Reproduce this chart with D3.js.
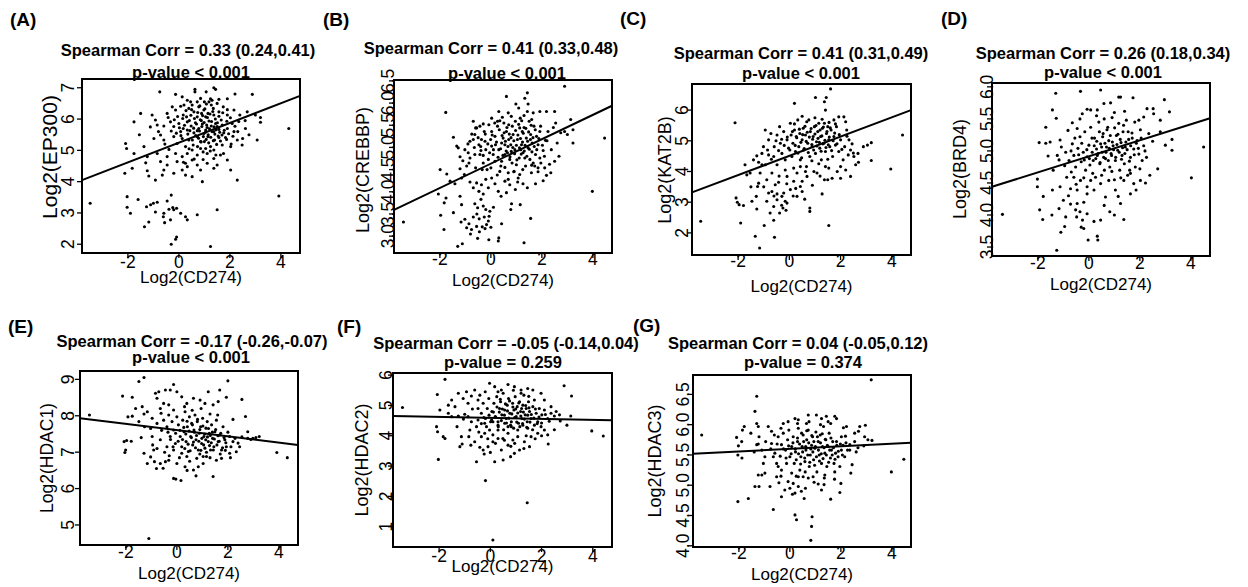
<!DOCTYPE html>
<meta charset="utf-8">
<style>
  body { margin: 0; background: #fff; }
  text { font-family: "Liberation Sans", Arial, sans-serif; fill: #000; }
  .title { font-weight: bold; font-size: 16.5px; }
  .tag { font-weight: bold; font-size: 19px; }
  .lab { font-size: 17px; }
  .tick { font-size: 17.5px; }
</style>
<body>
<script src="https://d3js.org/d3.v7.min.js"></script>
<script>

var xTicks = [-2, 0, 2, 4];
var xDomain = [-3.8, 4.75];

// Log2(CD274) vs Log2(EP300)
var ep300 = [[-3.48,3.31],[4.31,5.7],[3.92,3.54],[1.24,1.93],[-0.3,2.0],[-0.13,2.16],[-0.09,2.23],[1.5,3.1],[2.29,4.05],[3.07,5.33],[3.2,6.05],[3.2,5.9],[2.88,6.79],[2.2,6.8],
[-2.03,3.52],[-2.03,3.18],[-1.9,2.99],[-1.6,3.43],[-1.35,2.56],[-1.18,2.71],[-1.27,3.2],[-1.11,3.26],[-1.0,3.31],[-0.85,3.34],[-0.92,3.03],[-0.59,2.99],[-0.61,2.88],[-0.56,2.69],[-0.33,2.78],[-0.3,3.57],[-0.39,3.12],[-0.2,3.1],[-0.09,3.15],[-0.46,3.38],[0.26,2.88],[0.33,2.78],[0.72,2.94],[0.07,2.99],[-0.24,3.17],
[-2.09,5.22],[-2.05,5.06],[-2.12,4.27],[-1.76,4.9],[-1.83,4.43],[-1.5,6.18],[-1.76,5.91],[-1.37,5.12],[-1.24,4.8],[-1.05,6.13],[-0.98,5.38],[-1.24,4.35],[-1.18,4.18],[-0.92,4.05],[-0.65,4.21],[-0.59,4.37],[-0.85,4.9],[-0.72,4.64],[-0.46,4.8],[-0.39,5.03],[-0.46,4.53],[-0.72,5.49],[-0.59,5.33],[-0.59,5.78],[-0.75,6.87],[-0.92,5.97],[-0.85,5.81],
[-0.13,6.79],[0.63,6.95],[0.63,6.87],[1.07,6.87],[1.37,7.0],[1.44,6.95],[0.13,6.71],[0.33,6.6],[0.85,6.66],[1.24,6.65],[1.57,6.63],[1.9,6.65],[1.0,6.55],[1.18,6.55],[0.72,6.55],[0.46,6.55],[-0.26,6.39],[0.07,6.41],[1.5,6.5],
[-0.46,6.18],[-0.13,6.29],[0.17,6.13],[0.39,6.34],[0.59,6.23],[0.78,6.39],[0.98,6.29],[1.14,6.18],[1.35,6.34],[1.57,6.23],[1.74,6.39],[1.9,6.13],[2.16,6.29],[2.39,6.13],[2.68,6.23],[3.0,6.13],[0.3,6.07],[0.72,6.07],[1.05,6.07],[1.37,6.13],[0.52,6.45],[0.89,6.18],[1.27,6.45],
[-0.33,5.91],[-0.2,5.76],[0.0,5.86],[0.17,5.7],[0.33,5.91],[0.48,5.78],[0.65,5.88],[0.78,5.7],[0.92,5.84],[1.05,5.65],[1.18,5.94],[1.27,5.78],[1.44,5.86],[1.57,5.67],[1.7,5.81],[1.9,5.7],[2.09,5.86],[2.31,5.6],[2.61,5.7],[0.07,5.6],[0.59,5.56],[0.98,5.54],[1.37,5.6],[1.76,5.56],[2.16,5.6],[0.33,5.65],[0.72,5.63],[1.11,5.73],[1.5,5.76],[0.88,5.95],[0.43,5.63],
[-0.2,5.44],[-0.07,5.22],[0.13,5.38],[0.26,5.12],[0.39,5.33],[0.56,5.17],[0.72,5.44],[0.85,5.06],[1.0,5.28],[1.14,5.44],[1.24,5.12],[1.4,5.33],[1.57,5.41],[1.7,5.17],[1.87,5.35],[2.03,5.12],[2.29,5.33],[2.48,5.17],[0.85,5.28],[0.52,5.01],[1.05,5.06],[1.37,5.01],
[-0.13,4.9],[0.13,4.8],[0.33,4.9],[0.52,4.69],[0.72,4.85],[0.95,4.71],[1.11,4.9],[1.37,4.74],[1.63,4.85],[1.9,4.69],[0.26,4.59],[0.72,4.53],[1.11,4.59],[1.5,4.53],[-0.07,4.64],
[-0.2,4.27],[0.13,4.37],[0.33,4.48],[0.52,4.16],[0.85,4.37],[0.92,4.0],[1.37,4.43],[2.03,4.37],[0.26,4.21],
[0.35,5.52],[0.41,5.95],[0.47,6.12],[0.53,5.33],[0.58,5.71],[0.61,6.02],[0.66,5.47],[0.69,5.84],[0.74,6.21],[0.77,5.39],[0.81,5.62],[0.84,5.98],[0.87,5.27],[0.9,5.76],[0.93,6.11],[0.96,5.44],[0.99,5.89],[1.02,6.33],[1.04,5.58],[1.07,5.35],[1.09,5.81],[1.12,6.05],[1.15,5.5],[1.17,5.24],[1.2,5.69],[1.22,6.16],[1.25,5.42],[1.28,5.92],[1.3,5.6],[1.33,6.24],[1.35,5.31],[1.38,5.75],[1.41,5.52],[1.43,6.0],[1.46,5.66],[1.48,5.19],[1.51,5.88],[1.54,5.46],[1.57,6.09],[1.6,5.58],[1.63,5.3],[1.66,5.97],[1.69,5.49],[1.72,6.2],[1.78,5.64],[1.83,5.41],[1.88,5.93],[1.95,5.53],[2.02,6.04],[2.12,5.45],[2.2,5.77],[2.35,5.92],[2.5,5.38],[0.22,5.8],[0.15,6.02],[0.08,5.47],[0.02,5.72],[-0.05,6.08],[-0.1,5.55],[-0.18,5.98],[0.28,6.27],[0.5,6.3],[0.73,5.12],[0.95,4.95],[1.23,4.98],[1.45,4.85],[0.6,4.72],[0.4,5.05],[0.18,4.62],[-0.3,5.62],[-0.42,6.05],[-0.55,5.2],[1.08,6.48],[1.3,6.6],[0.82,6.42],[0.2,6.45],[1.9,6.3],[2.05,5.2],[1.75,4.9],[2.6,5.95],[2.75,5.5],[-0.8,5.6],[-1.12,5.75],[-1.3,4.6],[-1.55,5.5]];
var ep300Fit = [[-3.8,4.05],[4.75,6.74]];

// Log2(CD274) vs Log2(CREBBP)
var crebbp = [[-3.43,3.32],[2.89,6.38],[4.46,5.21],[3.98,4.01],[-1.77,5.79],[-1.47,5.23],[-1.99,4.5],[-1.73,4.4],[-2.06,3.95],[-1.83,3.75],[-1.76,3.86],[-1.97,3.47],[-1.84,3.15],[-1.47,3.53],[-1.3,2.77],[-1.12,2.83],
[-1.17,3.32],[-1.02,3.38],[-0.86,3.28],[-0.95,3.19],[-0.76,3.15],[-0.56,3.22],[-0.52,2.95],[-0.34,3.21],[-0.23,3.17],[-0.17,3.26],[-0.1,3.34],[-0.07,3.45],[-0.04,3.56],[-0.26,3.43],[-0.46,3.39],[-0.08,2.92],[0.29,2.89],[0.31,2.96],[0.42,3.28],[0.78,3.6],[1.15,3.71],[1.3,2.85],[1.56,3.4],[0.81,3.73],[-0.69,3.43],[-0.63,3.73],[-0.52,3.64],[-0.39,3.83],[-0.3,3.68],[-1.15,3.71],[-1.21,3.9],
[-1.6,4.24],[-1.41,4.18],[-1.15,4.31],[-1.04,4.39],[-0.82,4.22],[-0.69,4.09],[-0.56,4.2],[-0.47,4.01],[-0.37,4.16],[-0.2,4.28],[-0.1,4.09],[0.03,4.31],[0.16,4.18],[0.29,4.01],[0.55,4.24],[0.61,3.98],[0.74,4.16],[0.96,4.05],[1.07,4.31],[1.26,4.18],[1.43,4.09],[1.75,4.18],[2.05,4.25],[2.18,4.37],[2.35,4.43],[2.67,4.8],[2.5,4.69],[2.11,4.54],[1.59,4.43],[1.85,4.54],[1.13,4.39],[0.91,4.46],[0.68,4.43],[0.35,4.46],[0.0,4.54],[-0.34,4.5],[-0.6,4.54],[-0.86,4.65],[-0.95,4.58],[-1.21,4.52],
[-1.34,5.03],[-1.28,4.99],[-1.21,4.79],[-0.89,4.88],[-0.82,4.76],[-0.65,5.0],[-0.69,5.18],[-0.63,5.29],[-0.56,5.44],[-0.47,5.06],[-0.37,5.18],[-0.43,4.84],[-0.26,5.36],[-0.2,4.95],[-0.1,4.73],[-0.01,5.18],[0.03,5.36],[0.09,4.84],[0.18,5.06],[0.26,5.48],[0.31,4.95],[0.35,5.6],[0.42,4.69],[0.48,5.21],[0.55,5.06],[0.61,5.36],[0.65,4.88],[0.68,5.78],[0.7,5.51],[0.78,5.06],[0.83,4.65],[0.87,5.29],[0.94,4.95],[0.96,5.59],[1.04,5.18],[1.11,4.76],[1.15,5.66],[1.2,5.06],[1.23,5.36],[1.26,4.88],[1.3,5.45],[1.36,4.58],[1.39,5.21],[1.43,5.81],[1.46,4.99],[1.5,5.59],[1.53,4.73],[1.56,5.29],[1.62,5.1],[1.66,5.78],[1.69,5.48],[1.75,4.84],[1.79,5.25],[1.85,5.06],[1.92,5.36],[1.96,4.65],[2.05,4.93],[2.14,5.16],[2.24,5.36],[2.37,4.95],[2.5,5.81],[2.54,5.55],[2.74,5.33],[2.89,5.36],[3.0,5.29],[3.13,5.63],[3.22,5.4],[3.22,5.1],[2.18,5.81],[1.92,5.81],[1.46,5.98],[1.33,6.11],[1.43,6.23],[0.61,6.15],[0.98,5.98],[1.09,5.89],[0.31,5.81],[0.03,5.66],[0.26,5.59],[-0.69,5.59],[-0.3,5.53],[-0.6,5.44],[-0.43,5.48],[-0.08,5.51],
[0.55,4.84],[0.74,4.73],[1.0,4.61],[0.8,4.91],[1.17,4.95],[1.33,4.76],[1.66,4.65],[1.72,4.58],[1.92,4.76],[0.52,5.33],[0.7,5.18],[1.13,5.44],[1.6,5.63],[0.16,5.25],[0.42,5.1],[0.03,5.03],[-0.23,5.14],[-0.39,4.93],[0.16,4.69],[0.39,4.58],[-0.3,4.65],[-0.63,4.84],[-1.02,4.95],[-0.82,5.14],
[0.22,5.12],[0.28,4.78],[0.33,5.4],[0.38,4.97],[0.44,5.27],[0.47,4.82],[0.51,5.55],[0.57,5.14],[0.6,4.92],[0.63,5.45],[0.67,5.02],[0.72,5.3],[0.75,4.79],[0.79,5.22],[0.84,5.48],[0.86,5.0],[0.9,5.15],[0.93,4.86],[0.97,5.38],[1.0,5.05],[1.02,4.72],[1.06,5.28],[1.09,5.52],[1.12,4.99],[1.16,5.2],[1.19,4.85],[1.21,5.6],[1.24,5.12],[1.27,5.32],[1.31,4.92],[1.34,5.05],[1.37,5.43],[1.41,4.8],[1.44,5.14],[1.48,5.35],[1.51,4.96],[1.55,5.18],[1.58,5.5],[1.61,4.9],[1.65,5.22],[1.7,5.02],[1.74,5.4],[1.8,4.95],[1.88,5.2],[1.95,5.48],[2.02,5.05],[2.1,4.8],[2.2,5.15],[0.1,4.95],[0.05,5.28],[-0.05,4.88],[-0.12,5.08],[-0.22,5.3],[-0.3,4.82],[-0.4,5.02],[-0.5,5.22],[0.15,5.55],[0.45,5.68],[0.8,5.7],[1.3,5.72],[1.6,4.6],[1.25,4.5],[0.9,4.45],[0.55,4.55],[0.25,4.38],[1.85,4.45],[2.3,4.62],[2.6,5.1],[2.45,5.45],[-0.75,5.3],[-0.9,5.08],[-1.1,4.7],[0.68,4.28],[1.05,4.22],[-0.15,4.5],[0.4,3.9],[-0.3,3.95],[0.1,3.65],[-0.55,3.5],[-0.8,3.05],[-0.45,3.1],[0.0,3.2],[-0.2,3.6]];
var crebbpFit = [[-3.8,3.59],[4.75,5.94]];

// Log2(CD274) vs Log2(KAT2B)
var kat2b = [[-3.46,2.38],[4.42,5.19],[3.96,4.08],[-2.12,5.59],[1.61,6.69],[1.02,6.41],[0.2,6.22],[1.44,6.41],[1.37,6.27],[1.41,6.0],[1.54,2.24],[-1.16,1.51],[-1.33,1.89],[-0.58,1.86],[-0.98,2.24],[-0.61,2.41],[-1.9,2.32],
[-2.08,3.14],[-2.03,3.0],[-1.96,2.92],[-1.79,2.89],[-1.46,3.03],[-1.27,2.78],[-1.24,3.51],[-1.2,3.62],[-1.29,3.19],[-1.73,4.22],[-1.66,3.89],[-1.53,3.95],[-1.4,4.38],[-1.27,4.51],[-1.14,3.95],[-1.07,4.59],[-1.01,4.81],[-0.94,4.22],[-0.88,3.73],[-0.81,3.3],[-0.68,3.35],[-0.61,2.86],[-0.48,3.27],[-0.48,3.08],[-0.38,2.65],[-0.29,3.19],[-0.25,2.81],[-0.16,3.03],[-0.13,2.74],[-0.22,3.3],[-0.09,2.97],[-0.88,3.03],[-0.75,2.65],[-0.55,3.57],[-0.68,3.95],[-0.42,3.65],[0.04,3.41],[0.17,3.68],[0.3,3.19],[0.43,3.51],[0.5,3.35],[0.63,4.0],[0.8,2.81],[0.8,2.7],[1.28,3.27],[1.37,3.73],[1.5,3.73],[1.67,3.78],[1.87,4.0],[2.0,3.78],[2.39,3.84],[2.59,4.22],[2.68,4.59],[2.89,4.81],[3.05,4.86],[3.2,4.94],[3.2,4.36],[2.52,4.49],[2.39,4.7],[2.33,5.03],[2.24,5.35],[2.2,5.62],[2.13,5.78],[1.93,5.78],[1.74,5.68],
[-0.94,5.35],[-0.81,5.03],[-0.72,5.24],[-0.59,4.81],[-0.48,5.19],[-0.38,5.46],[-0.35,4.92],[-0.29,4.59],[-0.22,5.3],[-0.16,4.38],[-0.09,5.03],[-0.03,4.76],[0.04,5.57],[0.07,5.19],[0.1,4.49],[0.14,4.92],[0.2,5.35],[0.24,4.65],[0.27,5.14],[0.33,5.68],[0.37,4.81],[0.41,5.24],[0.43,4.38],[0.5,5.03],[0.54,5.41],[0.56,4.7],[0.63,5.19],[0.67,4.16],[0.72,4.92],[0.76,5.68],[0.8,4.49],[0.82,5.3],[0.89,4.81],[0.93,5.14],[0.98,5.46],[1.02,4.59],[1.06,4.97],[1.11,5.3],[1.15,5.57],[1.19,4.76],[1.22,5.14],[1.25,4.38],[1.29,5.41],[1.35,4.92],[1.37,5.57],[1.41,4.65],[1.45,5.24],[1.5,5.46],[1.54,5.03],[1.58,4.81],[1.63,5.35],[1.69,4.49],[1.74,5.14],[1.8,4.86],[1.84,5.46],[1.93,4.65],[2.0,5.03],[2.1,4.38],[2.16,4.81],[2.3,4.54],[2.0,4.16],[1.41,4.16],[0.96,4.0],[0.43,4.16],[0.17,4.11],[-0.16,4.05],[-0.48,4.22],[-0.61,4.49],[-0.81,4.54],[-1.07,4.22],[0.69,3.84],[1.08,3.95],[1.54,4.11],[-0.09,3.84],[0.3,3.95],[0.5,3.68],
[0.23,4.85],[0.29,5.1],[0.34,4.6],[0.39,5.38],[0.45,4.95],[0.52,5.2],[0.58,4.75],[0.61,5.47],[0.66,4.98],[0.7,5.28],[0.74,4.62],[0.78,5.12],[0.85,5.4],[0.88,4.88],[0.91,5.05],[0.95,4.7],[1.0,5.22],[1.04,5.5],[1.08,4.83],[1.12,5.08],[1.17,4.95],[1.2,5.35],[1.24,4.66],[1.27,5.16],[1.31,4.9],[1.33,5.45],[1.39,5.02],[1.43,4.78],[1.47,5.3],[1.52,4.87],[1.56,5.12],[1.6,5.42],[1.65,4.68],[1.71,5.0],[1.77,5.25],[1.86,4.9],[1.95,5.2],[2.05,4.72],[0.12,5.3],[0.02,4.7],[-0.08,5.12],[-0.2,4.85],[-0.3,5.05],[-0.42,4.68],[-0.52,5.0],[0.48,4.45],[0.88,4.35],[1.15,4.25],[1.5,4.4],[0.68,5.62],[1.0,5.75],[1.28,5.7],[1.55,5.6],[0.5,5.8],[0.2,5.55],[1.8,5.55],[2.25,5.15],[2.45,4.9],[2.7,4.3],[-0.7,4.4],[-0.85,4.7],[-1.2,4.3],[-0.4,3.85],[-0.1,3.6],[0.25,3.45],[-0.6,3.2],[-0.3,2.9],[0.15,3.2],[-1.0,3.5],[-1.5,3.5],[0.9,3.55],[1.2,3.85],[0.6,3.1],[2.2,4.05],[2.5,4.6]];
var kat2bFit = [[-3.8,3.32],[4.75,6.0]];

// Log2(CD274) vs Log2(BRD4)
var brd4 = [[-3.39,4.01],[4.5,5.06],[4.02,4.58],[-1.26,3.45],[-1.3,5.9],[-0.33,5.93],[0.46,5.95],
[-1.43,5.64],[-1.28,5.51],[-1.69,5.37],[-1.95,5.13],[-1.69,5.12],[-1.52,5.14],[-1.13,5.17],[-1.08,5.06],[-1.24,4.93],[-1.17,4.86],[-2.02,4.56],[-2.02,4.44],[-1.79,4.29],[-1.43,4.39],[-1.93,4.08],[-1.81,3.93],[-1.45,4.0],[-1.17,4.1],[-1.1,3.73],[-0.95,3.82],[-1.0,4.23],[-1.13,4.44],[-0.91,3.97],[-0.72,4.17],[-0.72,4.41],[-0.52,4.08],[-0.48,3.97],[-0.46,4.18],[-0.35,4.05],[-0.3,3.81],[-0.25,3.92],[-0.2,3.79],[-0.07,4.02],[-0.03,3.61],[-0.07,4.33],[0.33,3.67],[0.35,3.61],[0.46,3.92],[0.82,4.05],[1.24,4.18],[1.37,3.93],[1.15,4.29],[1.63,4.33],[1.85,4.39],[2.22,4.5],[2.39,4.62],[2.7,4.72],[3.0,5.09],[3.26,5.01],[3.26,5.18],[2.96,5.8],[3.16,5.61],[2.8,5.48],[2.54,5.58],[2.28,5.66],[2.52,5.66],[2.15,5.53],[1.96,5.48],[1.73,5.83],[1.24,5.84],[1.17,5.84],[0.85,5.75],[0.59,5.74],[0.33,5.64],[0.07,5.64],[-0.07,5.65],[-0.26,5.58],[-0.35,5.5],[-0.65,5.44],[-0.82,5.32],[-0.46,5.35],
[-0.91,4.98],[-0.78,4.85],[-0.65,5.11],[-0.59,4.93],[-0.52,4.75],[-0.43,5.04],[-0.35,5.22],[-0.3,4.83],[-0.22,4.98],[-0.16,5.3],[-0.13,4.7],[-0.07,4.91],[0.0,5.09],[0.04,4.78],[0.07,5.37],[0.13,4.98],[0.17,4.85],[0.22,5.2],[0.26,4.59],[0.3,5.03],[0.33,4.93],[0.39,5.45],[0.43,4.8],[0.46,5.11],[0.52,4.98],[0.56,5.27],[0.61,4.7],[0.65,4.88],[0.69,5.06],[0.74,5.37],[0.78,5.16],[0.82,4.75],[0.87,4.96],[0.91,5.52],[0.95,5.08],[1.0,4.55],[1.04,4.85],[1.08,5.24],[1.13,5.01],[1.17,5.43],[1.21,4.7],[1.26,5.13],[1.3,4.93],[1.34,5.3],[1.39,4.8],[1.43,5.06],[1.47,5.48],[1.52,4.62],[1.56,5.18],[1.63,4.9],[1.69,5.28],[1.76,5.03],[1.82,4.75],[1.89,5.16],[1.96,4.95],[2.02,5.33],[2.09,4.85],[2.15,5.08],[2.26,4.9],[2.35,5.27],[0.46,4.49],[0.78,4.54],[0.2,4.39],[0.07,4.54],[-0.33,4.54],[-0.59,4.59],[0.65,4.28],[1.04,4.39],[1.37,4.54],[1.63,4.65],[1.76,4.49],[2.02,4.54],[-0.07,4.44],[-0.46,4.39],[-0.87,4.59],[-0.69,4.67],[-0.95,4.77],
[0.21,5.08],[0.27,4.88],[0.31,5.15],[0.36,4.96],[0.41,5.3],[0.44,4.82],[0.5,5.06],[0.54,5.22],[0.58,4.9],[0.63,5.12],[0.67,4.98],[0.71,5.33],[0.76,4.85],[0.8,5.04],[0.84,5.24],[0.89,4.93],[0.92,5.14],[0.97,5.02],[1.01,5.36],[1.05,4.9],[1.1,5.1],[1.14,5.26],[1.19,4.98],[1.23,5.18],[1.28,4.87],[1.32,5.05],[1.36,5.4],[1.41,4.96],[1.45,5.14],[1.5,5.02],[1.54,5.3],[1.59,4.84],[1.64,5.08],[1.7,5.2],[1.78,4.94],[1.86,5.12],[1.94,5.04],[2.05,5.2],[2.2,5.0],[0.12,5.2],[0.02,4.88],[-0.08,5.02],[-0.18,4.86],[-0.28,5.12],[-0.4,4.94],[-0.55,5.2],[-0.7,5.0],[0.3,5.55],[0.6,5.5],[1.0,5.6],[1.4,5.62],[1.8,5.45],[0.15,4.65],[0.5,4.62],[0.9,4.68],[1.25,4.58],[1.6,4.7],[2.0,4.72],[-0.2,4.58],[-0.5,4.48],[0.6,4.15],[0.2,3.9],[-0.2,4.2],[1.0,4.0],[-0.8,4.3],[-1.4,4.7],[-1.6,4.92],[2.5,5.15],[2.8,5.3]];
var brd4Fit = [[-3.8,4.44],[4.75,5.51]];

// Log2(CD274) vs Log2(HDAC1)
var hdac1 = [[-3.43,8.02],[-1.1,4.63],[4.33,6.85],[3.92,6.99],[2.0,8.96],[-1.29,9.05],[-1.49,8.94],[-2.13,8.54],
[-1.75,8.51],[-1.62,8.2],[-1.92,7.97],[-1.75,7.99],[-2.07,7.29],[-1.97,7.32],[-2.04,6.99],[-2.01,7.06],[-1.79,7.3],[-1.49,7.84],[-1.36,8.25],[-1.29,8.05],[-1.16,8.11],[-1.27,7.7],[-1.03,7.65],[-0.97,7.43],[-1.29,6.97],[-1.16,6.69],[-1.03,6.87],[-0.91,7.06],[-0.88,6.74],[-0.78,7.1],[-0.65,6.69],[-0.54,6.56],[-0.45,6.74],[-0.32,6.78],[-0.13,6.28],[-0.04,6.26],[0.16,6.22],[0.65,6.51],[1.42,6.33],[0.84,6.6],[1.03,6.69],[1.75,6.83],[2.07,6.97],[2.33,7.01],[2.46,7.15],[2.78,7.56],[2.98,7.38],[3.23,7.43],[2.78,7.38],[2.69,7.98],[2.55,8.45],[1.94,8.51],[1.68,8.71],[1.23,8.66],[-0.84,8.62],[-0.71,8.66],[-0.45,8.71],[-0.26,8.71],[-0.13,8.86],[0.0,8.66],[0.19,8.52],[0.39,8.34],[0.65,8.48],[0.91,8.43],[1.1,8.34],[1.42,8.3],[1.62,8.39],[-0.78,8.48],[-0.52,8.34],[-0.65,8.2],[-0.32,8.3],[-0.13,8.16],
[-0.97,7.93],[-0.78,7.79],[-0.62,8.07],[-0.52,7.88],[-0.39,7.7],[-0.32,8.02],[-0.26,7.43],[-0.19,7.84],[-0.13,7.61],[-0.06,7.24],[0.0,7.97],[0.06,7.75],[0.13,7.43],[0.19,7.15],[0.23,7.88],[0.28,7.56],[0.32,8.11],[0.36,7.29],[0.41,7.7],[0.45,7.02],[0.49,7.97],[0.54,7.43],[0.58,7.79],[0.62,7.2],[0.67,7.61],[0.71,8.02],[0.75,7.34],[0.8,7.84],[0.84,7.06],[0.88,7.52],[0.93,7.7],[0.97,7.24],[1.01,7.93],[1.06,7.43],[1.1,7.11],[1.14,7.66],[1.19,7.84],[1.23,7.29],[1.27,7.52],[1.32,7.06],[1.36,7.75],[1.4,7.38],[1.45,7.15],[1.49,7.56],[1.55,7.88],[1.62,7.29],[1.68,7.47],[1.75,7.06],[1.81,7.7],[1.88,7.34],[1.94,7.15],[2.07,7.43],[2.2,7.29],[0.39,6.88],[0.78,6.83],[1.16,6.88],[0.19,6.97],[-0.13,7.06],[-0.39,7.15],[-0.65,7.34],[0.0,6.69],[0.32,6.6],[1.03,6.88],[1.55,6.78],
[0.22,7.35],[0.27,7.68],[0.31,7.1],[0.35,7.5],[0.4,7.85],[0.44,7.22],[0.48,7.58],[0.52,7.04],[0.57,7.4],[0.61,7.75],[0.65,7.28],[0.69,7.55],[0.73,7.12],[0.77,7.46],[0.81,7.9],[0.86,7.3],[0.9,7.62],[0.94,7.05],[0.98,7.38],[1.02,7.72],[1.05,7.2],[1.09,7.5],[1.13,7.34],[1.16,7.0],[1.2,7.42],[1.24,7.65],[1.28,7.18],[1.31,7.46],[1.35,7.26],[1.39,7.55],[1.43,7.06],[1.47,7.36],[1.52,7.62],[1.57,7.2],[1.61,7.45],[1.66,7.3],[1.72,7.52],[1.79,7.12],[1.85,7.4],[1.92,7.26],[2.0,7.55],[2.12,7.15],[2.28,7.38],[2.4,7.25],[2.55,7.42],[0.12,7.6],[0.05,7.3],[-0.05,7.52],[-0.15,7.15],[-0.25,7.35],[-0.35,7.55],[-0.48,7.0],[-0.6,7.6],[0.3,8.25],[0.6,8.15],[0.95,8.2],[1.3,8.05],[1.6,8.02],[2.2,7.9],[0.1,6.85],[0.5,6.75],[0.9,6.95],[1.3,6.85],[1.7,6.95],[2.1,6.85],[-0.3,6.9],[-0.8,6.55],[-0.95,7.2],[-1.4,7.4],[0.4,6.5],[0.75,6.35],[1.9,7.05],[2.9,7.35],[3.1,7.4]];
var hdac1Fit = [[-3.8,7.93],[4.75,7.2]];

// Log2(CD274) vs Log2(HDAC2)
var hdac2 = [[-3.43,4.93],[4.41,3.99],[3.96,4.16],[-1.77,5.86],[-2.07,5.36],[-2.03,3.22],[-2.1,4.3],[-2.06,4.13],[-1.84,3.97],[-1.77,3.91],[-0.19,2.52],[0.1,0.56],[1.44,1.79],[2.88,5.65],[3.17,5.31],[2.99,4.35],[2.26,3.73],[2.73,4.49],[3.14,4.65],[2.5,4.65],[2.37,4.96],[2.11,5.18],[1.98,5.4],[1.66,5.51],[1.46,5.56],[1.2,5.51],[0.94,5.62],[0.69,5.69],[0.43,5.51],[-0.03,5.73],[0.17,5.62],
[-1.51,5.18],[-1.64,5.01],[-1.38,4.96],[-1.25,5.4],[-1.06,5.23],[-0.93,5.45],[-0.87,5.07],[-0.74,5.31],[-0.61,5.51],[-0.48,5.18],[-0.41,5.34],[-1.97,4.85],[-1.64,4.74],[-1.51,4.63],[-1.25,4.65],[-1.0,4.71],[-1.13,3.97],[-1.19,3.64],[-1.1,3.73],[-0.84,3.97],[-0.76,3.69],[-0.61,3.8],[-0.54,3.14],[-0.41,3.62],[-0.28,3.53],[-0.24,3.4],[-0.09,3.64],[0.17,3.14],[0.1,3.8],[0.3,3.91],[0.43,3.53],[0.69,3.69],[0.79,3.31],[0.94,3.42],[1.14,3.53],[1.31,3.58],[1.53,3.64],[-0.8,4.19],[-0.54,4.3],[-0.74,4.46],[-0.48,4.52],[-0.87,4.63],[-0.22,4.41],[-0.22,4.08],[-0.35,3.97],[-0.03,4.19],[0.1,4.03],[0.3,4.19],[0.49,3.91],[0.69,4.08],[0.88,3.86],[1.07,3.97],[1.33,3.8],[1.59,3.97],[1.85,4.08],[2.11,4.19],[2.24,4.03],[1.07,4.19],[0.82,4.3],[0.56,4.41],[1.46,4.25],
[-0.48,4.9],[-0.35,4.74],[-0.28,5.07],[-0.19,4.57],[-0.12,4.9],[-0.06,5.23],[0.01,4.46],[0.06,4.8],[0.14,5.07],[0.19,4.63],[0.25,5.29],[0.3,4.46],[0.36,4.9],[0.4,5.12],[0.45,4.69],[0.5,5.4],[0.56,4.85],[0.62,4.57],[0.66,5.01],[0.71,5.23],[0.76,4.74],[0.82,4.46],[0.87,5.07],[0.92,4.85],[0.97,5.29],[1.01,4.63],[1.05,4.96],[1.1,4.41],[1.14,5.12],[1.18,4.8],[1.23,4.57],[1.27,5.01],[1.31,5.34],[1.36,4.69],[1.4,4.9],[1.44,4.46],[1.49,5.12],[1.53,4.8],[1.59,4.57],[1.66,4.96],[1.72,5.18],[1.79,4.74],[1.85,4.46],[1.91,4.9],[2.01,4.69],[2.11,4.85],[2.24,4.57],[2.37,4.74],[2.57,4.8],[2.7,4.69],[0.69,4.3],[1.27,4.35],[0.3,4.35],[0.1,4.46],[1.72,4.35],[1.98,4.3],
[0.21,4.62],[0.26,4.95],[0.31,4.3],[0.35,4.78],[0.39,5.2],[0.43,4.5],[0.47,4.88],[0.52,4.2],[0.55,4.68],[0.59,5.05],[0.63,4.42],[0.67,4.82],[0.72,4.58],[0.75,5.15],[0.79,4.35],[0.84,4.72],[0.88,4.95],[0.91,4.25],[0.95,4.6],[0.99,4.88],[1.03,4.45],[1.07,4.75],[1.11,5.08],[1.15,4.3],[1.19,4.65],[1.22,4.9],[1.26,4.4],[1.29,4.78],[1.33,4.55],[1.38,5.0],[1.42,4.28],[1.46,4.68],[1.51,4.92],[1.55,4.45],[1.6,4.7],[1.65,4.2],[1.7,4.58],[1.76,4.88],[1.83,4.4],[1.9,4.62],[2.0,4.42],[2.15,4.7],[2.3,4.48],[0.12,4.78],[0.05,4.52],[-0.05,4.68],[-0.15,4.3],[-0.25,4.6],[-0.35,4.4],[-0.45,4.12],[0.2,3.75],[0.55,3.85],[0.95,3.75],[1.4,4.0],[1.75,3.9],[-0.1,3.9],[0.0,3.45],[0.5,3.2],[0.8,3.65],[0.3,5.45],[0.9,5.5],[1.5,5.3],[1.2,5.4],[-0.2,5.45],[-0.7,4.88],[-1.05,4.55],[-1.3,4.3],[2.5,4.2],[2.0,4.0]];
var hdac2Fit = [[-3.8,4.65],[4.75,4.51]];

// Log2(CD274) vs Log2(HDAC3)
var hdac3 = [[-3.46,5.83],[4.47,5.43],[3.98,5.22],[3.19,6.74],[-1.3,6.47],[-1.37,6.22],[0.82,4.09],[0.85,4.32],[0.87,4.48],[0.2,4.51],[0.26,4.43],[-0.65,4.6],[-2.04,4.73],[-1.63,4.78],
[-2.09,5.79],[-2.02,5.65],[-2.04,5.5],[-1.88,5.45],[-1.89,5.72],[-1.79,5.97],[-1.86,5.91],[-1.53,5.86],[-1.3,6.02],[-1.24,5.97],[-1.21,5.8],[-1.24,5.68],[-1.3,5.67],[-1.1,5.58],[-0.98,5.47],[-1.04,5.36],[-1.24,5.17],[-1.1,5.17],[-1.37,4.98],[-1.21,4.98],[-0.98,5.2],[-0.78,4.98],[-0.85,5.97],[-0.72,5.89],[-0.61,5.83],[-0.72,5.69],[-0.59,5.53],[-0.46,5.31],[-0.52,5.14],[-0.43,5.04],[-0.33,4.81],[-0.2,4.92],[-0.07,5.06],[0.0,4.95],[0.13,5.03],[0.2,4.87],[0.33,4.98],[0.52,5.14],[0.61,4.95],[0.56,4.78],[1.11,5.02],[1.24,4.92],[1.34,5.01],[1.6,4.77],[2.0,5.03],[1.96,4.88],[2.39,5.2],[2.44,5.34],[2.67,5.62],[2.96,5.99],[2.69,5.89],[3.06,5.75],[3.22,5.74],[2.93,5.8],[2.74,5.97],[2.54,5.86],[2.18,5.81],[2.22,5.97],[2.02,5.8],[1.83,6.1],[1.76,6.14],[1.43,6.14],[1.24,6.1],[1.04,6.16],[0.72,6.16],[0.33,6.08],[-0.07,6.05],[0.2,6.1],[-0.26,6.02],[-0.35,5.94],[0.65,6.02],[1.5,6.05],[2.54,5.72],[2.35,5.67],
[-0.46,5.8],[-0.33,5.67],[-0.26,5.86],[-0.17,5.58],[-0.09,5.75],[-0.04,5.91],[0.0,5.47],[0.07,5.64],[0.13,5.8],[0.17,5.36],[0.22,5.55],[0.3,5.72],[0.33,5.94],[0.39,5.25],[0.43,5.47],[0.48,5.64],[0.52,5.83],[0.59,5.39],[0.63,5.58],[0.66,5.75],[0.72,5.91],[0.76,5.31],[0.8,5.5],[0.85,5.66],[0.89,5.8],[0.93,5.42],[0.98,5.61],[1.02,5.88],[1.06,5.22],[1.11,5.72],[1.15,5.5],[1.19,5.83],[1.24,5.36],[1.28,5.64],[1.32,5.97],[1.37,5.53],[1.41,5.75],[1.45,5.31],[1.5,5.64],[1.54,5.86],[1.59,5.45],[1.63,5.58],[1.68,5.72],[1.73,5.36],[1.79,5.53],[1.84,5.66],[1.89,5.47],[1.96,5.31],[2.02,5.58],[2.09,5.66],[2.15,5.47],[2.26,5.58],[-0.13,5.36],[-0.33,5.25],[-0.52,5.36],[-0.65,5.47],[0.07,5.2],[0.33,5.14],[0.72,5.12],[0.91,5.14],[1.37,5.17],[1.76,5.22],
[0.21,5.6],[0.25,5.42],[0.3,5.78],[0.34,5.52],[0.38,5.68],[0.42,5.35],[0.46,5.86],[0.5,5.55],[0.54,5.72],[0.58,5.45],[0.62,5.64],[0.66,5.9],[0.7,5.5],[0.74,5.7],[0.78,5.38],[0.82,5.6],[0.86,5.82],[0.9,5.55],[0.94,5.72],[0.97,5.33],[1.0,5.64],[1.04,5.47],[1.08,5.8],[1.12,5.58],[1.16,5.4],[1.2,5.7],[1.23,5.52],[1.27,5.85],[1.3,5.44],[1.34,5.62],[1.39,5.76],[1.43,5.5],[1.47,5.66],[1.52,5.38],[1.56,5.58],[1.61,5.78],[1.66,5.5],[1.71,5.62],[1.77,5.43],[1.83,5.72],[1.9,5.56],[1.98,5.68],[2.06,5.5],[2.2,5.7],[2.35,5.58],[0.12,5.7],[0.05,5.52],[-0.05,5.65],[-0.15,5.45],[-0.25,5.6],[-0.38,5.48],[-0.5,5.68],[0.3,6.02],[0.75,6.05],[1.2,6.0],[1.6,6.02],[2.1,5.95],[0.25,5.15],[0.6,5.22],[0.95,5.05],[1.35,5.12],[1.75,5.1],[0.1,4.85],[0.45,4.9],[-0.35,5.15],[-0.75,5.6],[-0.95,5.72],[-1.4,5.55],[2.6,5.55],[2.9,5.65]];
var hdac3Fit = [[-3.8,5.52],[4.75,5.7]];

var panels = [
  {tag: "(A)", gene: "EP300", pts: ep300, fit: ep300Fit, corr: "Spearman Corr = 0.33 (0.24,0.41)", pval: "p-value < 0.001",
   yTicks: [2, 3, 4, 5, 6, 7], dec: 0, yDomain: [1.72, 7.28],
   box: [82, 79, 300, 253], tagPos: [10, 19], t1: [188, 50], t2: [191, 72], xTickY: 262, xLabY: 277, yTickX: 68, yLabX: 50, yLabY: 157, yLabSize: 21},
  {tag: "(B)", gene: "CREBBP", pts: crebbp, fit: crebbpFit, corr: "Spearman Corr = 0.41 (0.33,0.48)", pval: "p-value < 0.001",
   yTicks: [3, 3.5, 4, 4.5, 5, 5.5, 6, 6.5], dec: 1, yDomain: [2.62, 6.52],
   box: [394, 80, 612, 253], tagPos: [323, 19], t1: [491, 48], t2: [507, 73], xTickY: 259, xLabY: 280, yTickX: 388, yLabX: 363, yLabY: 170, yLabSize: 18},
  {tag: "(C)", gene: "KAT2B", pts: kat2b, fit: kat2bFit, corr: "Spearman Corr = 0.41 (0.31,0.49)", pval: "p-value < 0.001",
   yTicks: [2, 3, 4, 5, 6], dec: 0, yDomain: [1.28, 6.85],
   box: [692, 84, 911, 255], tagPos: [620, 18], t1: [801, 53], t2: [801, 73], xTickY: 261, xLabY: 286, yTickX: 682, yLabX: 665, yLabY: 170, yLabSize: 18},
  {tag: "(D)", gene: "BRD4", pts: brd4, fit: brd4Fit, corr: "Spearman Corr = 0.26 (0.18,0.34)", pval: "p-value < 0.001",
   yTicks: [3.5, 4, 4.5, 5, 5.5, 6], dec: 1, yDomain: [3.36, 6.06],
   box: [992, 83, 1210, 256], tagPos: [941, 18], t1: [1103, 53], t2: [1103, 72], xTickY: 263, xLabY: 284, yTickX: 987, yLabX: 960, yLabY: 169, yLabSize: 18},
  {tag: "(E)", gene: "HDAC1", pts: hdac1, fit: hdac1Fit, corr: "Spearman Corr = -0.17 (-0.26,-0.07)", pval: "p-value < 0.001",
   yTicks: [5, 6, 7, 8, 9], dec: 0, yDomain: [4.45, 9.23],
   box: [80, 371, 298, 545], tagPos: [8, 326], t1: [192, 341], t2: [191, 357], xTickY: 552, xLabY: 573, yTickX: 68, yLabX: 47, yLabY: 458, yLabSize: 17.5},
  {tag: "(F)", gene: "HDAC2", pts: hdac2, fit: hdac2Fit, corr: "Spearman Corr = -0.05 (-0.14,0.04)", pval: "p-value = 0.259",
   yTicks: [1, 2, 3, 4, 5, 6], dec: 0, yDomain: [0.33, 6.07],
   box: [393, 373, 612, 547], tagPos: [337, 326], t1: [506, 343], t2: [503, 362], xTickY: 556, xLabY: 566, yTickX: 386, yLabX: 362, yLabY: 460, yLabSize: 18},
  {tag: "(G)", gene: "HDAC3", pts: hdac3, fit: hdac3Fit, corr: "Spearman Corr = 0.04 (-0.05,0.12)", pval: "p-value = 0.374",
   yTicks: [4, 4.5, 5, 5.5, 6, 6.5], dec: 1, yDomain: [3.98, 6.82],
   box: [693, 375, 911, 547], tagPos: [633, 325], t1: [798, 343], t2: [803, 362], xTickY: 553, xLabY: 574, yTickX: 683, yLabX: 655, yLabY: 461, yLabSize: 18}
];

var svg = d3.select("body").append("svg")
    .attr("width", 1248)
    .attr("height", 587);

panels.forEach(function(p) {
    var x = d3.scaleLinear().domain(xDomain).range([p.box[0], p.box[2]]);
    var y = d3.scaleLinear().domain(p.yDomain).range([p.box[3], p.box[1]]);
    var g = svg.append("g");

    g.append("text").attr("class", "tag")
        .attr("x", p.tagPos[0]).attr("y", p.tagPos[1]).attr("dy", "0.35em")
        .text(p.tag);

    g.append("text").attr("class", "title")
        .attr("x", p.t1[0]).attr("y", p.t1[1]).attr("dy", "0.35em")
        .attr("text-anchor", "middle").text(p.corr);
    g.append("text").attr("class", "title")
        .attr("x", p.t2[0]).attr("y", p.t2[1]).attr("dy", "0.35em")
        .attr("text-anchor", "middle").text(p.pval);

    // points
    g.selectAll("circle").data(p.pts).enter().append("circle")
        .attr("cx", function(d) { return x(d[0]); })
        .attr("cy", function(d) { return y(d[1]); })
        .attr("r", 1.55)
        .attr("fill", "#000");

    // fitted line
    g.append("line")
        .attr("x1", x(p.fit[0][0])).attr("y1", y(p.fit[0][1]))
        .attr("x2", x(p.fit[1][0])).attr("y2", y(p.fit[1][1]))
        .attr("stroke", "#000").attr("stroke-width", 2);

    // ticks
    g.selectAll("line.xt").data(xTicks).enter().append("line").attr("class", "xt")
        .attr("x1", function(d) { return x(d); }).attr("x2", function(d) { return x(d); })
        .attr("y1", p.box[3]).attr("y2", p.box[3] + 5)
        .attr("stroke", "#000").attr("stroke-width", 1.3);
    g.selectAll("text.xt").data(xTicks).enter().append("text").attr("class", "tick xt")
        .attr("x", function(d) { return x(d); }).attr("y", p.xTickY).attr("dy", "0.35em")
        .attr("text-anchor", "middle")
        .text(function(d) { return d; });

    g.selectAll("line.yt").data(p.yTicks).enter().append("line").attr("class", "yt")
        .attr("x1", p.box[0] - 5).attr("x2", p.box[0])
        .attr("y1", function(d) { return y(d); }).attr("y2", function(d) { return y(d); })
        .attr("stroke", "#000").attr("stroke-width", 1.3);
    g.selectAll("text.yt").data(p.yTicks).enter().append("text").attr("class", "tick yt")
        .attr("transform", function(d) { return "translate(" + p.yTickX + "," + y(d) + ") rotate(-90)"; })
        .attr("dy", "0.35em")
        .attr("text-anchor", "middle")
        .text(function(d) { return d3.format("." + p.dec + "f")(d); });

    // frame
    g.append("rect")
        .attr("x", p.box[0]).attr("y", p.box[1])
        .attr("width", p.box[2] - p.box[0]).attr("height", p.box[3] - p.box[1])
        .attr("fill", "none").attr("stroke", "#000").attr("stroke-width", 2);

    g.append("text").attr("class", "lab")
        .attr("x", (p.box[0] + p.box[2]) / 2).attr("y", p.xLabY).attr("dy", "0.35em")
        .attr("text-anchor", "middle").text("Log2(CD274)");
    g.append("text").attr("class", "lab")
        .attr("transform", "translate(" + p.yLabX + "," + p.yLabY + ") rotate(-90)")
        .attr("dy", "0.35em")
        .style("font-size", p.yLabSize + "px")
        .attr("text-anchor", "middle").text("Log2(" + p.gene + ")");
});

</script>
